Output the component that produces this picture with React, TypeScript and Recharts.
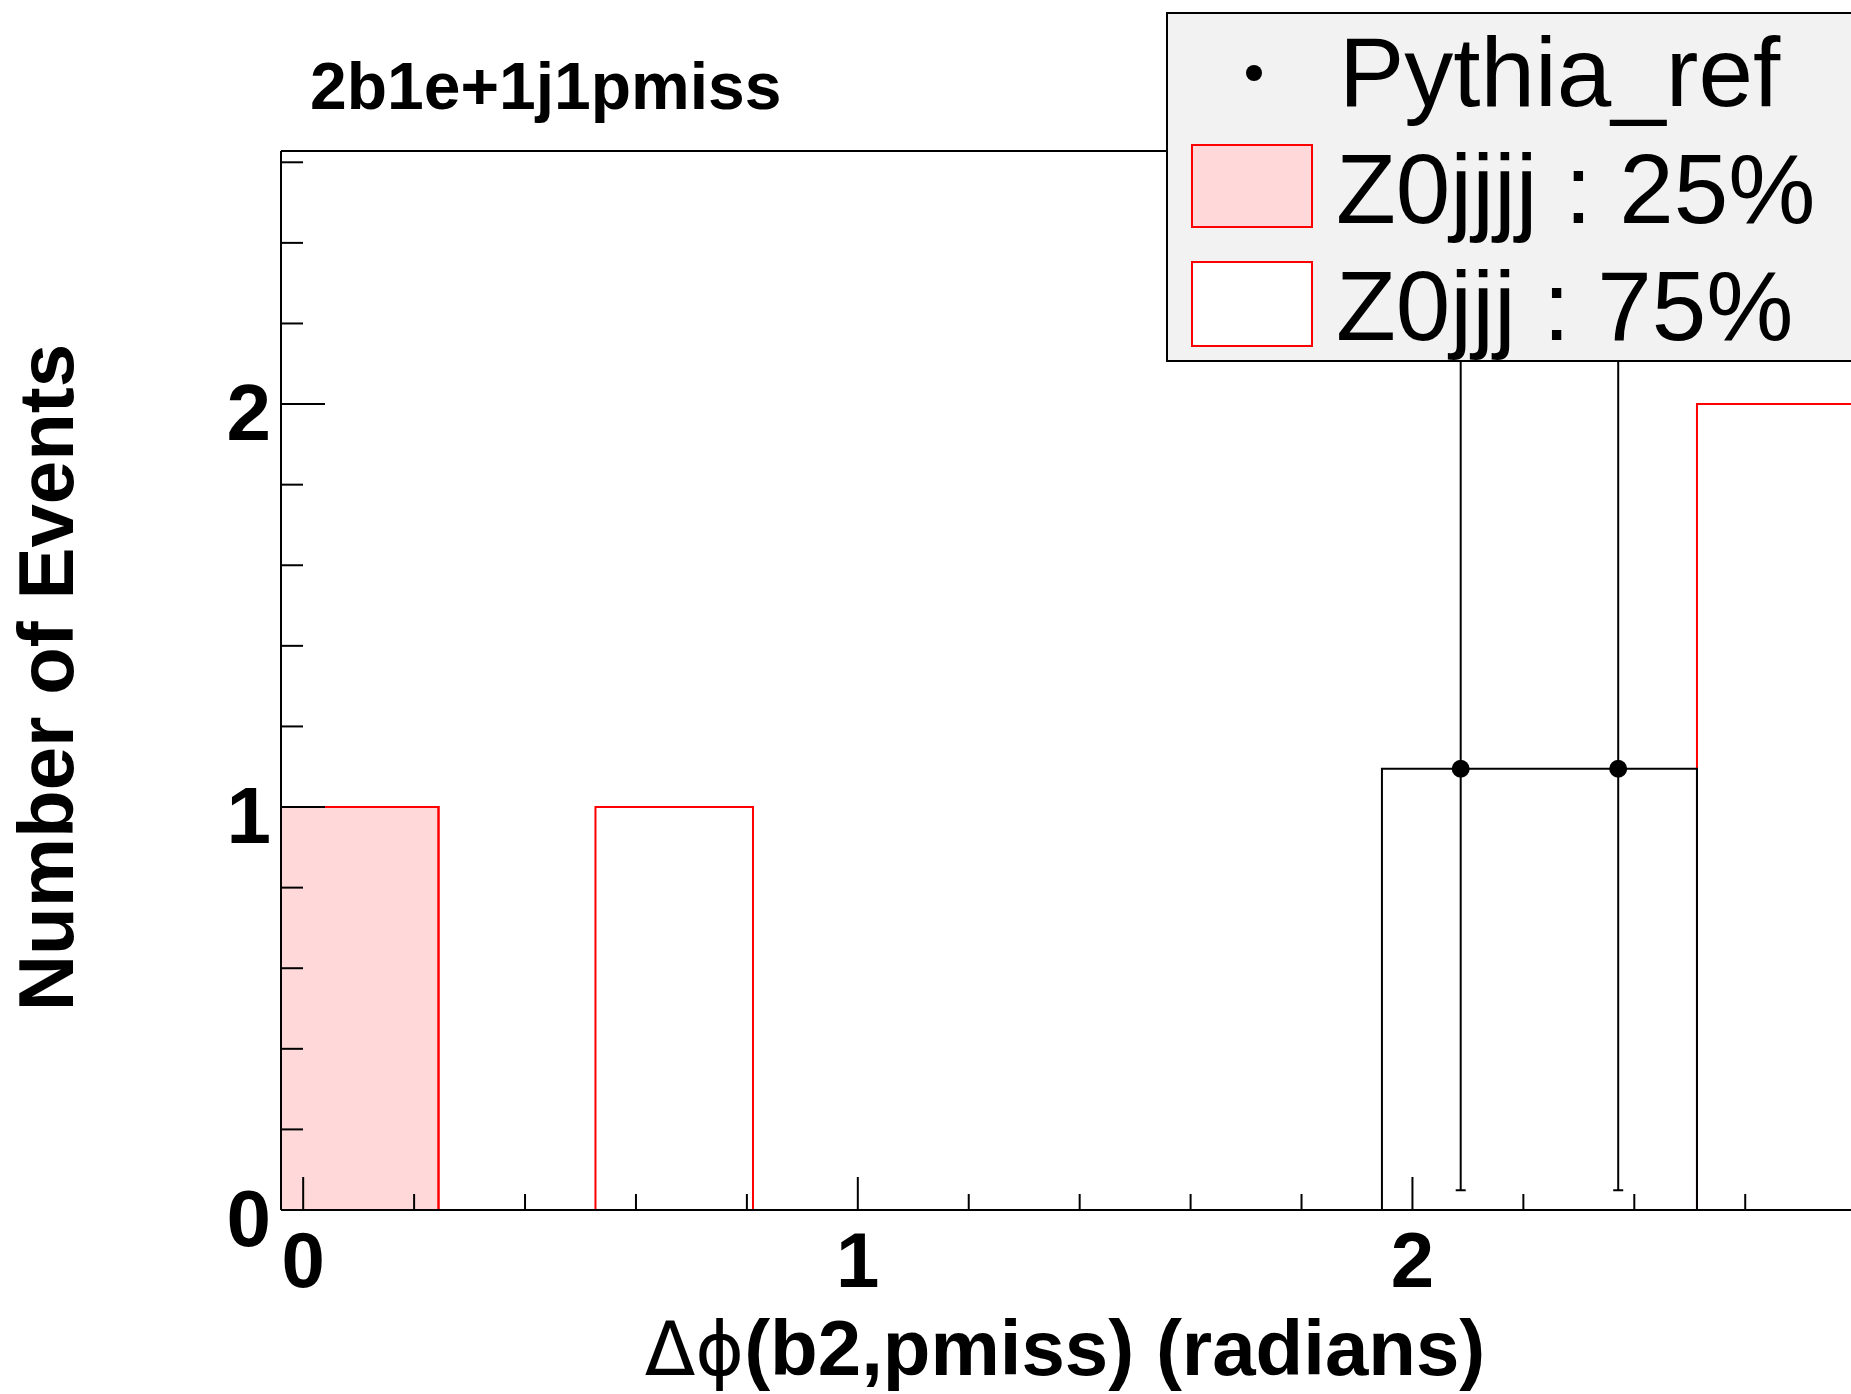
import React from 'react';
import {
    ComposedChart,
    Area,
    Line,
    Scatter,
    ErrorBar,
    XAxis,
    YAxis,
    Legend,
    Label,
    ReferenceLine,
    Customized,
} from 'recharts';

// bin low edges (last entry = upper edge of last bin), radians
const binEdges = [-0.04, 0.244, 0.527, 0.811, 1.095, 1.378, 1.662, 1.945, 2.229, 2.513, 2.797, 3.08];
const z0jjjj = [1, 0, 0, 0, 0, 0, 0, 0, 0, 0, 0];
const z0jjj = [0, 0, 1, 0, 0, 0, 0, 0, 0, 2, 0];
const pythiaRef = [0, 0, 0, 0, 0, 0, 0, 1.095, 1.095, 0, 0];
const pythiaErr = [0, 0, 0, 0, 0, 0, 0, 1.046, 1.046, 0, 0];

const xTicks = [0, 0.2, 0.4, 0.6, 0.8, 1, 1.2, 1.4, 1.6, 1.8, 2, 2.2, 2.4, 2.6, 2.8];
const yTicks = [0, 0.2, 0.4, 0.6, 0.8, 1, 1.2, 1.4, 1.6, 1.8, 2, 2.2, 2.4, 2.6];

const X_MIN = -0.04;
const X_MAX = 3.2;
const Y_MAX = 2.628;

const FONT = '"Liberation Sans", Arial, Helvetica, sans-serif';
const PINK = '#ffd9da';
const RED = '#ff0000';

const last = binEdges.length - 2;
const histRows = binEdges.map((x, i) => ({
    x,
    z4: z0jjjj[Math.min(i, last)],
    z3: z0jjj[Math.min(i, last)],
    ref: pythiaRef[Math.min(i, last)],
}));

const refPoints = pythiaRef
    .map((y, i) => ({ x: (binEdges[i] + binEdges[i + 1]) / 2, y, err: pythiaErr[i] }))
    .filter((p) => p.y > 0);

const isMajor = (v: number) => Math.abs(v - Math.round(v)) < 1e-6;

const XTick = (props: any) => {
    const { x, y, payload } = props;
    const v = payload.value;
    const major = isMajor(v);
    return (
        <g>
            <line x1={x} x2={x} y1={y} y2={y - (major ? 33 : 16)} stroke="#000" strokeWidth={2} />
            {major && (
                <text x={x} y={y + 77} textAnchor="middle" fontSize={78} fontWeight="bold" fontFamily={FONT}>
                    {Math.round(v)}
                </text>
            )}
        </g>
    );
};

const YTick = (props: any) => {
    const { x, y, payload } = props;
    const v = payload.value;
    const major = isMajor(v);
    return (
        <g>
            <line x1={x} x2={x + (major ? 44 : 22)} y1={y} y2={y} stroke="#000" strokeWidth={2} />
            {major && (
                <text x={x - 10} y={y + 36} textAnchor="end" fontSize={80} fontWeight="bold" fontFamily={FONT}>
                    {Math.round(v)}
                </text>
            )}
        </g>
    );
};

const XTitle = (props: any) => {
    const { x, y } = props.viewBox;
    return (
        <text x={x + 784} y={y + 165} textAnchor="middle" fontSize={78} fontWeight="bold" fontFamily={FONT}>
            <tspan fontWeight="normal" fontFamily='"DejaVu Sans", "Liberation Sans", sans-serif' fontSize={74}>
                Δϕ
            </tspan>
            (b2,pmiss) (radians)
        </text>
    );
};

const YTitle = (props: any) => {
    const { y, height } = props.viewBox;
    const cy = y + height / 2 - 3;
    return (
        <text
            x={73}
            y={cy}
            textAnchor="middle"
            fontSize={78}
            fontWeight="bold"
            fontFamily={FONT}
            transform={`rotate(-90, 73, ${cy})`}
        >
            Number of Events
        </text>
    );
};

const PlotTitle = () => (
    <text x={310} y={109} fontSize={66} fontWeight="bold" fontFamily={FONT}>
        2b1e+1j1pmiss
    </text>
);

const LegendBox = () => (
    <svg width={800} height={352} style={{ display: 'block' }}>
        <rect x={1} y={1} width={820} height={348} fill="#f2f2f2" stroke="#000" strokeWidth={2} />
        <circle cx={88} cy={61} r={8} fill="#000" />
        <text x={173} y={94} fontSize={98} fontFamily={FONT}>Pythia_ref</text>
        <rect x={26} y={133} width={120} height={82} fill={PINK} stroke={RED} strokeWidth={2} />
        <text x={170} y={211} fontSize={98} fontFamily={FONT}>Z0jjjj : 25%</text>
        <rect x={26} y={250} width={120} height={84} fill="#fff" stroke={RED} strokeWidth={2} />
        <text x={170} y={328} fontSize={98} fontFamily={FONT}>Z0jjj : 75%</text>
    </svg>
);

const RefDot = (props: any) => <circle cx={props.cx} cy={props.cy} r={9} fill="#000" />;

const App: React.FC = () => (
    <div style={{ position: 'absolute', left: 0, top: 0, width: 1851, height: 1394, overflow: 'hidden', background: '#fff' }}>
        <ComposedChart width={2078} height={1394} margin={{ top: 151, right: 0, bottom: 0, left: 0 }}>
            <XAxis
                dataKey="x"
                type="number"
                domain={[X_MIN, X_MAX]}
                allowDataOverflow
                ticks={xTicks}
                interval={0}
                tickSize={0}
                tickMargin={0}
                tick={<XTick />}
                height={184}
                axisLine={{ stroke: '#000', strokeWidth: 2 }}
            >
                <Label content={<XTitle />} />
            </XAxis>
            <YAxis
                type="number"
                domain={[0, Y_MAX]}
                allowDataOverflow
                ticks={yTicks}
                interval={0}
                tickSize={0}
                tickMargin={0}
                tick={<YTick />}
                width={281}
                axisLine={{ stroke: '#000', strokeWidth: 2 }}
            >
                <Label content={<YTitle />} />
            </YAxis>
            <ReferenceLine y={Y_MAX} stroke="#000" strokeWidth={2} />
            <Area
                data={histRows}
                dataKey="z4"
                stackId="stack"
                type="stepAfter"
                fill={PINK}
                fillOpacity={1}
                stroke={RED}
                strokeWidth={2}
                isAnimationActive={false}
            />
            <Area
                data={histRows}
                dataKey="z3"
                stackId="stack"
                type="stepAfter"
                fill="none"
                stroke={RED}
                strokeWidth={2}
                isAnimationActive={false}
            />
            <Line
                data={histRows}
                dataKey="ref"
                type="stepAfter"
                stroke="#000"
                strokeWidth={2}
                dot={false}
                isAnimationActive={false}
            />
            <Scatter data={refPoints} dataKey="y" shape={<RefDot />} isAnimationActive={false}>
                <ErrorBar dataKey="err" direction="y" width={5} stroke="#000" strokeWidth={2} />
            </Scatter>
            <Customized component={PlotTitle} />
            <Legend
                layout="horizontal"
                verticalAlign="middle"
                align="center"
                content={<LegendBox />}
                wrapperStyle={{ left: 1166, top: 12, width: 800, height: 352 }}
            />
        </ComposedChart>
    </div>
);

export default App;
